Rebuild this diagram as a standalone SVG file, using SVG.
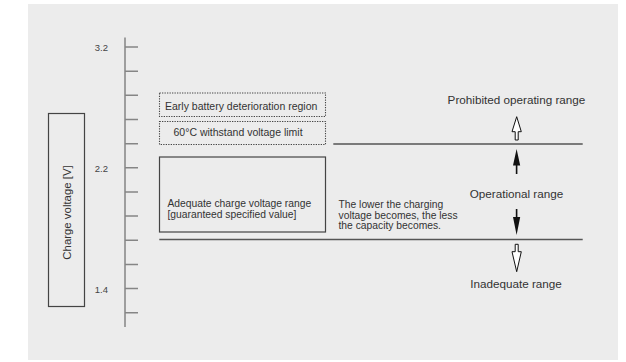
<svg xmlns="http://www.w3.org/2000/svg" width="626" height="362" viewBox="0 0 626 362">
<style>
text{font-family:"Liberation Sans",Arial,sans-serif;fill:#333}
.tick{font-size:9.5px;text-anchor:end;fill:#444}
.box{font-size:10.3px}
.big{font-size:11.7px;text-anchor:middle}
.axis{stroke:#858585;stroke-width:1.5;fill:none}
.dot{fill:none;stroke:#444;stroke-width:1.1;stroke-dasharray:1.3 1.2}
.solid{fill:none;stroke:#444;stroke-width:1.2}
.line{stroke:#555;stroke-width:1.4}
.hollow{fill:#fff;stroke:#111;stroke-width:1}
.filled{fill:#111;stroke:none}
</style>
<rect x="28" y="4" width="590" height="356" fill="#ececec"/>
<g id="axis">
<line class="axis" x1="125" y1="37.5" x2="125" y2="327"/>
<path class="axis" d="M125 47H138M125 71.2H138M125 95.3H138M125 119.5H138M125 143.7H138M125 167.8H138M125 192H138M125 216.1H138M125 240.3H138M125 264.4H138M125 288.6H138M125 312.7H138"/>
<text class="tick" x="108" y="50.5">3.2</text>
<text class="tick" x="108" y="171.5">2.2</text>
<text class="tick" x="108" y="292.5">1.4</text>
</g>
<g id="ylabel">
<rect class="solid" x="48.5" y="113.5" width="36" height="193"/>
<text transform="translate(70.5,212.5) rotate(-90)" style="font-size:11.4px;text-anchor:middle">Charge voltage [V]</text>
</g>
<g id="early">
<rect class="dot" x="159.5" y="93" width="166" height="23.5"/>
<text class="box" x="165" y="109.5" style="font-size:10.5px">Early battery deterioration region</text>
</g>
<g id="limit">
<rect class="dot" x="159.5" y="121.5" width="166" height="23"/>
<text class="box" x="173.5" y="136" style="font-size:10.5px">60°C withstand voltage limit</text>
</g>
<g id="adequate">
<rect class="solid" x="159.5" y="157" width="166" height="75"/>
<text class="box" x="167.5" y="207.3">Adequate charge voltage range</text>
<text class="box" x="167.5" y="218.3">[guaranteed specified value]</text>
</g>
<g id="note">
<text class="box" x="338.5" y="208">The lower the charging</text>
<text class="box" x="338.5" y="218.7">voltage becomes, the less</text>
<text class="box" x="338.5" y="229.3">the capacity becomes.</text>
</g>
<g id="prohibited">
<text class="big" x="516.5" y="104">Prohibited operating range</text>
</g>
<g id="operational">
<text class="big" x="516.5" y="197.5">Operational range</text>
</g>
<g id="inadequate">
<text class="big" x="516" y="287.5">Inadequate range</text>
</g>
<g id="connectors">
<line class="line" x1="333.3" y1="144" x2="582.7" y2="144"/>
<line class="line" x1="159.3" y1="239.5" x2="582.7" y2="239.5"/>
<polygon class="hollow" points="516.7,116.7 521.3,131.7 518.2,131.7 518.2,140 515.2,140 515.2,131.7 512,131.7"/>
<polygon class="filled" points="516.6,149 520.2,165.5 517.4,165.5 517.4,174 515.8,174 515.8,165.5 513,165.5"/>
<polygon class="filled" points="515.8,209 517.4,209 517.4,217 520.2,217 516.6,235 513,217 515.8,217"/>
<polygon class="hollow" points="515.2,244.3 518.2,244.3 518.2,251.7 521.3,251.7 516.7,271.7 512,251.7 515.2,251.7"/>
</g>
</svg>
